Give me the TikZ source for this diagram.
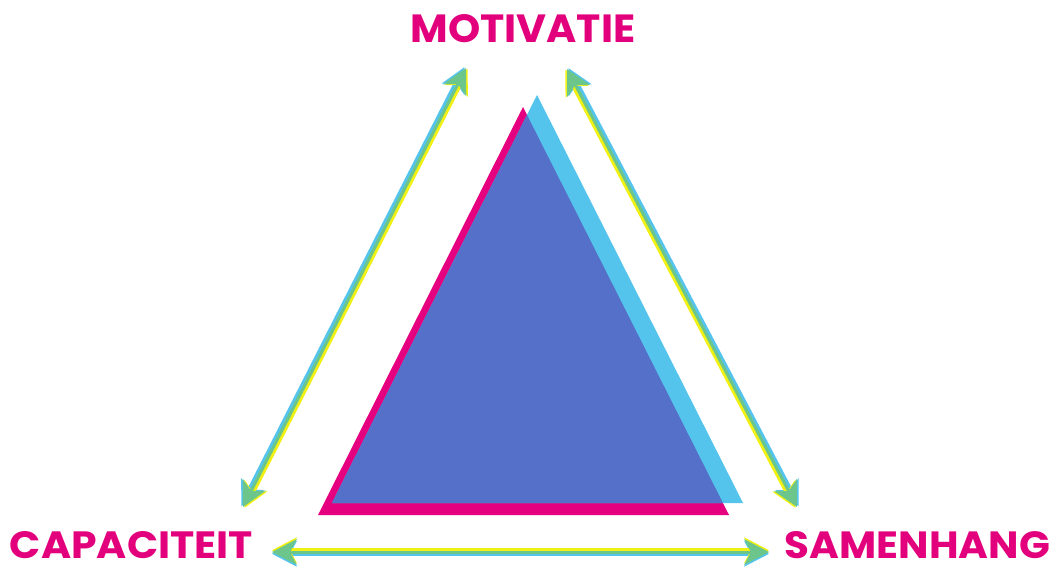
\documentclass[tikz,border=0pt]{standalone}
\usepackage{fontspec}
\setmainfont{Poppins}[BoldFont={* Bold}]
\usetikzlibrary{calc}
\definecolor{pinkc}{RGB}{228,0,126}
\definecolor{lightb}{RGB}{84,196,236}
\definecolor{darkb}{RGB}{84,112,200}
\definecolor{yel}{RGB}{240,240,20}
\definecolor{grn}{RGB}{108,198,140}
\definecolor{lblc}{RGB}{226,0,124}
\newcommand{\lbltext}[3]{\resizebox{#1}{#2}{\bfseries #3}}
% one coloured layer of a double-headed arrow: from #1 to #2, colour #3, shaft width #4
\newcommand{\arrowlayer}[4]{%
  \draw[draw=#3, line width=#4] ($(#1)!18pt!(#2)$) -- ($(#2)!18pt!(#1)$);
  \fill[#3] (#1) -- ($(#1)!25pt!(#2)!13pt!90:(#2)$) -- ($(#1)!18pt!(#2)$)
        -- ($(#1)!25pt!(#2)!13pt!-90:(#2)$) -- cycle;
  \fill[#3] (#2) -- ($(#2)!25pt!(#1)!13pt!90:(#1)$) -- ($(#2)!18pt!(#1)$)
        -- ($(#2)!25pt!(#1)!13pt!-90:(#1)$) -- cycle;
}
\tikzset{
  lbl/.style={text=lblc, inner sep=0pt, anchor=center},
}
\begin{document}
\begin{tikzpicture}[x=1pt,y=-1pt]
\useasboundingbox (0,0) rectangle (1056,567);
% triangles
\fill[pinkc] (523,107) -- (318,515) -- (729,515) -- cycle;
\fill[lightb] (537,95) -- (332,503) -- (743,503) -- cycle;
\begin{scope}
\clip (523,107) -- (318,515) -- (729,515) -- cycle;
\fill[darkb] (537,95) -- (332,503) -- (743,503) -- cycle;
\end{scope}
% labels
\node[lbl] (mot) at (523,29) {\lbltext{225pt}{28pt}{MOTIVATIE}};
\node[lbl] (cap) at (131.5,545) {\lbltext{243pt}{27pt}{CAPACITEIT}};
\node[lbl] (sam) at (917.5,545) {\lbltext{265pt}{27pt}{SAMENHANG}};
% arrow end points
\coordinate (lt) at (466,68);
\coordinate (lb) at (243,507);
\coordinate (rt) at (567,69);
\coordinate (rb) at (797,507);
\coordinate (bl) at (272,552);
\coordinate (br) at (769,552);
% left arrow (yellow inward = lower right)
\begin{scope}[transform canvas={shift={(-1.6,-0.8)}}]\arrowlayer{lb}{lt}{lightb}{5pt}\end{scope}
\begin{scope}[transform canvas={shift={(1.6,0.8)}}]\arrowlayer{lb}{lt}{yel}{5pt}\end{scope}
\arrowlayer{lb}{lt}{grn}{3pt}
% right arrow (yellow inward = lower left)
\begin{scope}[transform canvas={shift={(1.6,-0.8)}}]\arrowlayer{rb}{rt}{lightb}{5pt}\end{scope}
\begin{scope}[transform canvas={shift={(-1.6,0.8)}}]\arrowlayer{rb}{rt}{yel}{5pt}\end{scope}
\arrowlayer{rb}{rt}{grn}{3pt}
% bottom arrow (yellow inward = up)
\begin{scope}[transform canvas={shift={(0,1.8)}}]\arrowlayer{bl}{br}{lightb}{5pt}\end{scope}
\begin{scope}[transform canvas={shift={(0,-1.8)}}]\arrowlayer{bl}{br}{yel}{5pt}\end{scope}
\arrowlayer{bl}{br}{grn}{3pt}
\end{tikzpicture}
\end{document}
